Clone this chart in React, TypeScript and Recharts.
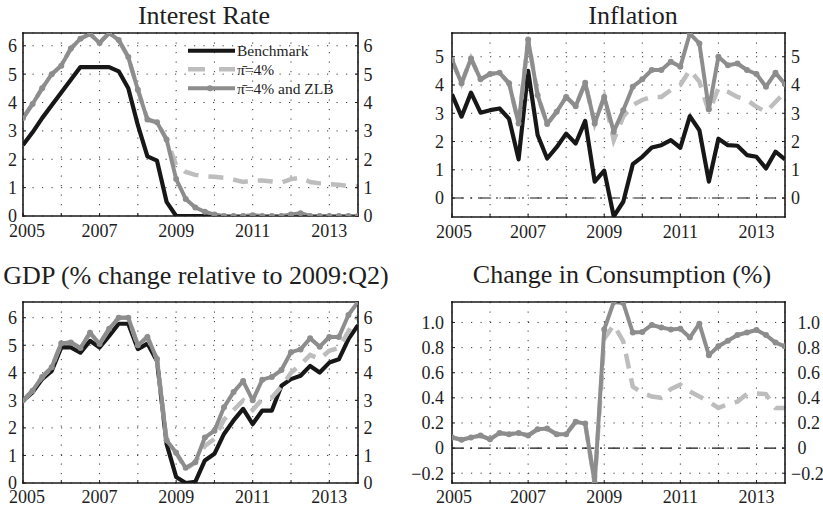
import React from 'react';
import { LineChart, Line, XAxis, YAxis, CartesianGrid, ReferenceLine, Legend } from 'recharts';

const quarters = [
  2005, 2005.25, 2005.5, 2005.75, 2006, 2006.25, 2006.5, 2006.75,
  2007, 2007.25, 2007.5, 2007.75, 2008, 2008.25, 2008.5, 2008.75,
  2009, 2009.25, 2009.5, 2009.75, 2010, 2010.25, 2010.5, 2010.75,
  2011, 2011.25, 2011.5, 2011.75, 2012, 2012.25, 2012.5, 2012.75,
  2013, 2013.25, 2013.5, 2013.75,
];
const xTickYears = [2005, 2006, 2007, 2008, 2009, 2010, 2011, 2012, 2013];
const xLabelYears = [2005, 2007, 2009, 2011, 2013];

// Interest rate
const rateBenchmark = [2.5, 2.95, 3.45, 3.9, 4.35, 4.8, 5.25, 5.25, 5.25, 5.25, 5.1, 4.5, 3.2, 2.1, 1.95, 0.5,
  0, 0, 0, 0, 0, 0, 0, 0, 0, 0, 0, 0, 0, 0, 0, 0, 0, 0, 0, 0];
const ratePi4 = [3.45, 3.95, 4.5, 5.0, 5.3, 5.9, 6.25, 6.42, 6.1, 6.45, 6.2, 5.6, 4.45, 3.4, 3.3, 2.7,
  1.8, 1.55, 1.45, 1.4, 1.38, 1.35, 1.28, 1.2, 1.25, 1.25, 1.22, 1.18, 1.3, 1.35, 1.2, 1.15, 1.12, 1.1, 1.05, 1.05];
const rateZlb = [3.45, 3.95, 4.5, 5.0, 5.3, 5.9, 6.25, 6.42, 6.1, 6.45, 6.2, 5.6, 4.45, 3.4, 3.3, 2.7,
  1.3, 0.6, 0.3, 0.15, 0.05, 0, 0, 0, 0.03, 0, 0, 0, 0.05, 0.1, 0, 0, 0, 0, 0, 0];

// Inflation
const inflBenchmark = [3.67, 2.88, 3.73, 3.02, 3.11, 3.17, 2.8, 1.37, 4.5, 2.23, 1.4, 1.8, 2.28, 1.93, 2.73, 0.58,
  0.97, -0.65, -0.13, 1.2, 1.46, 1.79, 1.87, 2.05, 1.78, 2.9, 2.4, 0.58, 2.1, 1.87, 1.85, 1.52, 1.46, 1.05, 1.64, 1.37];
const inflPi4 = [4.88, 4.06, 4.94, 4.2, 4.39, 4.43, 4.06, 2.64, 5.61, 3.64, 2.62, 3.05, 3.58, 3.25, 4.08, 2.64,
  3.58, 2.05, 2.88, 3.29, 3.47, 3.58, 3.58, 3.82, 4.0, 4.53, 4.12, 3.05, 3.88, 3.76, 3.58, 3.47, 3.23, 3.05, 3.4, 3.75];
const inflZlb = [4.88, 4.06, 4.94, 4.2, 4.39, 4.43, 4.06, 2.64, 5.61, 3.64, 2.62, 3.05, 3.58, 3.25, 4.08, 2.64,
  3.58, 2.35, 3.11, 3.94, 4.2, 4.53, 4.53, 4.82, 4.65, 5.82, 5.47, 3.14, 5.0, 4.7, 4.76, 4.53, 4.39, 3.94, 4.43, 4.03];

// GDP
const gdpBenchmark = [2.99, 3.29, 3.77, 4.07, 4.92, 4.92, 4.73, 5.16, 4.92, 5.34, 5.78, 5.78, 4.86, 5.06, 4.43, 1.42,
  0.22, 0.0, 0.04, 0.82, 1.06, 1.78, 2.27, 2.69, 2.14, 2.63, 2.63, 3.53, 3.77, 3.89, 4.25, 4.01, 4.37, 4.49, 5.22, 5.73];
const gdpPi4 = [3.0, 3.35, 3.85, 4.2, 5.07, 5.1, 4.9, 5.45, 5.05, 5.6, 6.0, 6.0, 5.0, 5.3, 4.5, 1.55,
  1.1, 0.5, 0.75, 1.35, 1.6, 2.3, 2.65, 3.0, 2.65, 3.05, 3.1, 3.5, 4.0, 4.3, 4.65, 4.5, 4.8, 4.9, 5.5, 6.05];
const gdpZlb = [3.0, 3.35, 3.85, 4.2, 5.07, 5.1, 4.9, 5.45, 5.05, 5.6, 6.0, 6.0, 5.0, 5.3, 4.5, 1.55,
  1.1, 0.55, 0.75, 1.65, 1.9, 2.75, 3.3, 3.7, 3.0, 3.75, 3.85, 4.1, 4.75, 4.85, 5.25, 4.95, 5.3, 5.3, 6.1, 6.57];

// Consumption
const consPi4 = [0.084, 0.066, 0.084, 0.1, 0.07, 0.12, 0.11, 0.12, 0.1, 0.15, 0.155, 0.11, 0.11, 0.21, 0.195, -0.278,
  0.87, 0.98, 0.85, 0.49, 0.44, 0.41, 0.4, 0.47, 0.505, 0.45, 0.41, 0.37, 0.32, 0.35, 0.37, 0.43, 0.435, 0.43, 0.32, 0.32];
const consZlb = [0.084, 0.066, 0.084, 0.1, 0.07, 0.12, 0.11, 0.12, 0.1, 0.15, 0.155, 0.11, 0.11, 0.21, 0.195, -0.278,
  0.945, 1.163, 1.155, 0.92, 0.925, 0.98, 0.96, 0.945, 0.95, 0.88, 0.99, 0.74, 0.81, 0.855, 0.9, 0.92, 0.94, 0.9, 0.84, 0.81];

const rateTicks = [0, 1, 2, 3, 4, 5, 6];
const inflTicks = [0, 1, 2, 3, 4, 5];
const gdpTicks = [0, 1, 2, 3, 4, 5, 6];
const consTicks = [-0.2, 0, 0.2, 0.4, 0.6, 0.8, 1.0];

const seriesNames = { bench: 'Benchmark', pi4: 'π̄=4%', zlb: 'π̄=4% and ZLB' };

const FONT = '"Liberation Serif", "DejaVu Serif", serif';
const BLACK = '#171717';
const GRAY = '#8d8d8d';
const LIGHT = '#bdbdbd';
const FRAME = '#1a1a1a';
const TEXT = '#1e1e1e';

const makeRows = (bench: number[] | null, pi4: number[], zlb: number[]) =>
  quarters.map((q, i) => ({ q, bench: bench ? bench[i] : null, pi4: pi4[i], zlb: zlb[i] }));

const intFmt = (v: number) => String(v);
const decFmt = (v: number) => (Math.abs(v) < 1e-9 ? '0' : v.toFixed(1).replace('-', '\u2212'));
const yearFmt = (v: number) => (xLabelYears.includes(v) ? String(v) : '');

const RateLegend = () => (
  <svg width={180} height={62} style={{ display: 'block', overflow: 'visible' }}>
    <line x1={4} y1={10.7} x2={51} y2={10.7} stroke={BLACK} strokeWidth={4} />
    <text x={53} y={16.2} fontFamily={FONT} fontSize={15.5} fill={TEXT}>{seriesNames.bench}</text>
    <line x1={4} y1={29.3} x2={51} y2={29.3} stroke={LIGHT} strokeWidth={4.5} strokeDasharray="17 14" />
    <text x={53} y={34.8} fontFamily={FONT} fontSize={15.5} fill={TEXT}>{seriesNames.pi4}</text>
    <line x1={4} y1={48.3} x2={51} y2={48.3} stroke={GRAY} strokeWidth={4} />
    <circle cx={26} cy={48.3} r={3} fill={GRAY} />
    <text x={53} y={53.8} fontFamily={FONT} fontSize={15.5} fill={TEXT}>{seriesNames.zlb}</text>
  </svg>
);

type PanelProps = {
  left: number; top: number; width: number; height: number;
  rows: any[]; yDomain: [number, number]; yTicks: number[]; fmt: (v: number) => string;
  showBench: boolean; zeroLine: boolean; legend: boolean;
  margin: { top: number; right: number; bottom: number; left: number };
  leftW: number; rightW: number; xH: number; leftTM: number; rightTM: number; xTM: number;
  firstShift: number;
  rightShift?: boolean;
};

const tickStyle = { fill: TEXT, fontSize: 18, fontFamily: FONT };

const Panel = (p: PanelProps) => {
  const rightTick = p.rightShift
    ? (props: any) => {
        const { x, y, payload } = props;
        const v = payload.value as number;
        return (
          <text x={x + (v < 0 ? 0 : 6.5)} y={y} dy="0.355em" textAnchor="start" fill={TEXT} fontSize={18} fontFamily={FONT}>
            {p.fmt(v)}
          </text>
        );
      }
    : tickStyle;
  const bottomTick = (props: any) => {
    const { x, y, payload } = props;
    const v = payload.value as number;
    const label = yearFmt(v);
    if (!label) return <g />;
    return (
      <text x={x + (v === 2005 ? p.firstShift : 0)} y={y} dy="0.71em" textAnchor="middle" fill={TEXT} fontSize={18} fontFamily={FONT}>
        {label}
      </text>
    );
  };
  return (
    <div style={{ position: 'absolute', left: p.left, top: p.top, width: p.width, height: p.height }}>
      <LineChart width={p.width} height={p.height} data={p.rows} margin={p.margin}>
        <CartesianGrid xAxisId="b" yAxisId="l" stroke="#3a3a3a" strokeWidth={1} strokeDasharray="1.2 8.3" />
        <XAxis xAxisId="b" dataKey="q" type="number" domain={[2005, 2013.75]} ticks={xTickYears} interval={0}
          allowDataOverflow tickFormatter={yearFmt} height={p.xH} tickSize={-3} tickMargin={p.xTM}
          axisLine={{ stroke: FRAME, strokeWidth: 1.6, strokeLinecap: 'square' }} tickLine={{ stroke: FRAME, strokeWidth: 1 }}
          tick={bottomTick} />
        <XAxis xAxisId="t" orientation="top" dataKey="q" type="number" domain={[2005, 2013.75]} ticks={xTickYears}
          interval={0} allowDataOverflow height={1} tickSize={-3} tick={false}
          axisLine={{ stroke: FRAME, strokeWidth: 1.6, strokeLinecap: 'square' }} tickLine={{ stroke: FRAME, strokeWidth: 1 }} />
        <YAxis yAxisId="l" type="number" domain={p.yDomain} ticks={p.yTicks} interval={0} allowDataOverflow
          width={p.leftW} tickSize={-3} tickMargin={p.leftTM} tickFormatter={p.fmt}
          axisLine={{ stroke: FRAME, strokeWidth: 1.6, strokeLinecap: 'square' }} tickLine={{ stroke: FRAME, strokeWidth: 1 }}
          tick={tickStyle} />
        <YAxis yAxisId="r" orientation="right" type="number" domain={p.yDomain} ticks={p.yTicks} interval={0} allowDataOverflow
          width={p.rightW} tickSize={-3} tickMargin={p.rightTM} tickFormatter={p.fmt}
          axisLine={{ stroke: FRAME, strokeWidth: 1.6, strokeLinecap: 'square' }} tickLine={{ stroke: FRAME, strokeWidth: 1 }}
          tick={rightTick} />
        {p.zeroLine && (
          <ReferenceLine xAxisId="b" yAxisId="l" y={0} stroke={BLACK} strokeWidth={1.1} strokeDasharray="12 6 2 6" />
        )}
        {p.showBench && (
          <Line xAxisId="b" yAxisId="l" dataKey="bench" name={seriesNames.bench} stroke={BLACK} strokeWidth={4.2}
            dot={false} strokeLinejoin="round" isAnimationActive={false} />
        )}
        <Line xAxisId="b" yAxisId="l" dataKey="pi4" name={seriesNames.pi4} stroke={LIGHT} strokeWidth={4.5}
          strokeDasharray="15 10" dot={false} isAnimationActive={false} />
        <Line xAxisId="b" yAxisId="l" dataKey="zlb" name={seriesNames.zlb} stroke={GRAY} strokeWidth={4}
          strokeLinejoin="round" dot={{ r: 3, fill: GRAY, stroke: GRAY, strokeWidth: 0 }} isAnimationActive={false} />
        {p.legend && (
          <Legend layout="vertical" align="center" verticalAlign="middle"
            wrapperStyle={{ position: 'absolute', left: 184, top: 40, width: 180, height: 62, margin: 0, padding: 0 }}
            content={() => <RateLegend />} />
        )}
      </LineChart>
    </div>
  );
};

const Title = ({ text, cx, top }: { text: string; cx: number; top: number }) => (
  <div style={{ position: 'absolute', left: cx - 250, top, width: 500, textAlign: 'center', fontFamily: FONT,
    fontSize: 26, lineHeight: '26px', color: TEXT, whiteSpace: 'nowrap' }}>{text}</div>
);

export default function App() {
  return (
    <div style={{ position: 'absolute', left: 0, top: 0, width: 823, height: 510, background: '#fff', overflow: 'hidden' }}>
      <Panel left={0} top={0} width={411} height={250} rows={makeRows(rateBenchmark, ratePi4, rateZlb)}
        yDomain={[0, 6.45]} yTicks={rateTicks} fmt={intFmt} showBench zeroLine={false} legend
        margin={{ top: 32, right: 23, bottom: 4, left: 0 }} leftW={23} rightW={30} xH={30} leftTM={9} rightTM={8.5} xTM={11}
        firstShift={4} />
      <Panel left={411} top={0} width={412} height={250} rows={makeRows(inflBenchmark, inflPi4, inflZlb)}
        yDomain={[-0.67, 5.84]} yTicks={inflTicks} fmt={intFmt} showBench zeroLine legend={false}
        margin={{ top: 32, right: 8, bottom: 3, left: 0 }} leftW={41} rightW={30} xH={30} leftTM={11} rightTM={9} xTM={11}
        firstShift={2} />
      <Panel left={0} top={250} width={411} height={260} rows={makeRows(gdpBenchmark, gdpPi4, gdpZlb)}
        yDomain={[0, 6.57]} yTicks={gdpTicks} fmt={intFmt} showBench zeroLine={false} legend={false}
        margin={{ top: 51, right: 23, bottom: 0, left: 0 }} leftW={23} rightW={30} xH={27} leftTM={9} rightTM={8.5} xTM={10}
        firstShift={4} />
      <Panel left={411} top={250} width={412} height={260} rows={makeRows(null, consPi4, consZlb)}
        yDomain={[-0.278, 1.163]} yTicks={consTicks} fmt={decFmt} showBench={false} zeroLine legend={false}
        margin={{ top: 51, right: 8, bottom: 0, left: 0 }} leftW={41} rightW={30} xH={27} leftTM={11} rightTM={9} xTM={10}
        firstShift={2} rightShift />
      <Title text="Interest Rate" cx={204} top={3} />
      <Title text="Inflation" cx={633} top={3} />
      <Title text="GDP (% change relative to 2009:Q2)" cx={196} top={263} />
      <Title text="Change in Consumption (%)" cx={622} top={262} />
    </div>
  );
}
